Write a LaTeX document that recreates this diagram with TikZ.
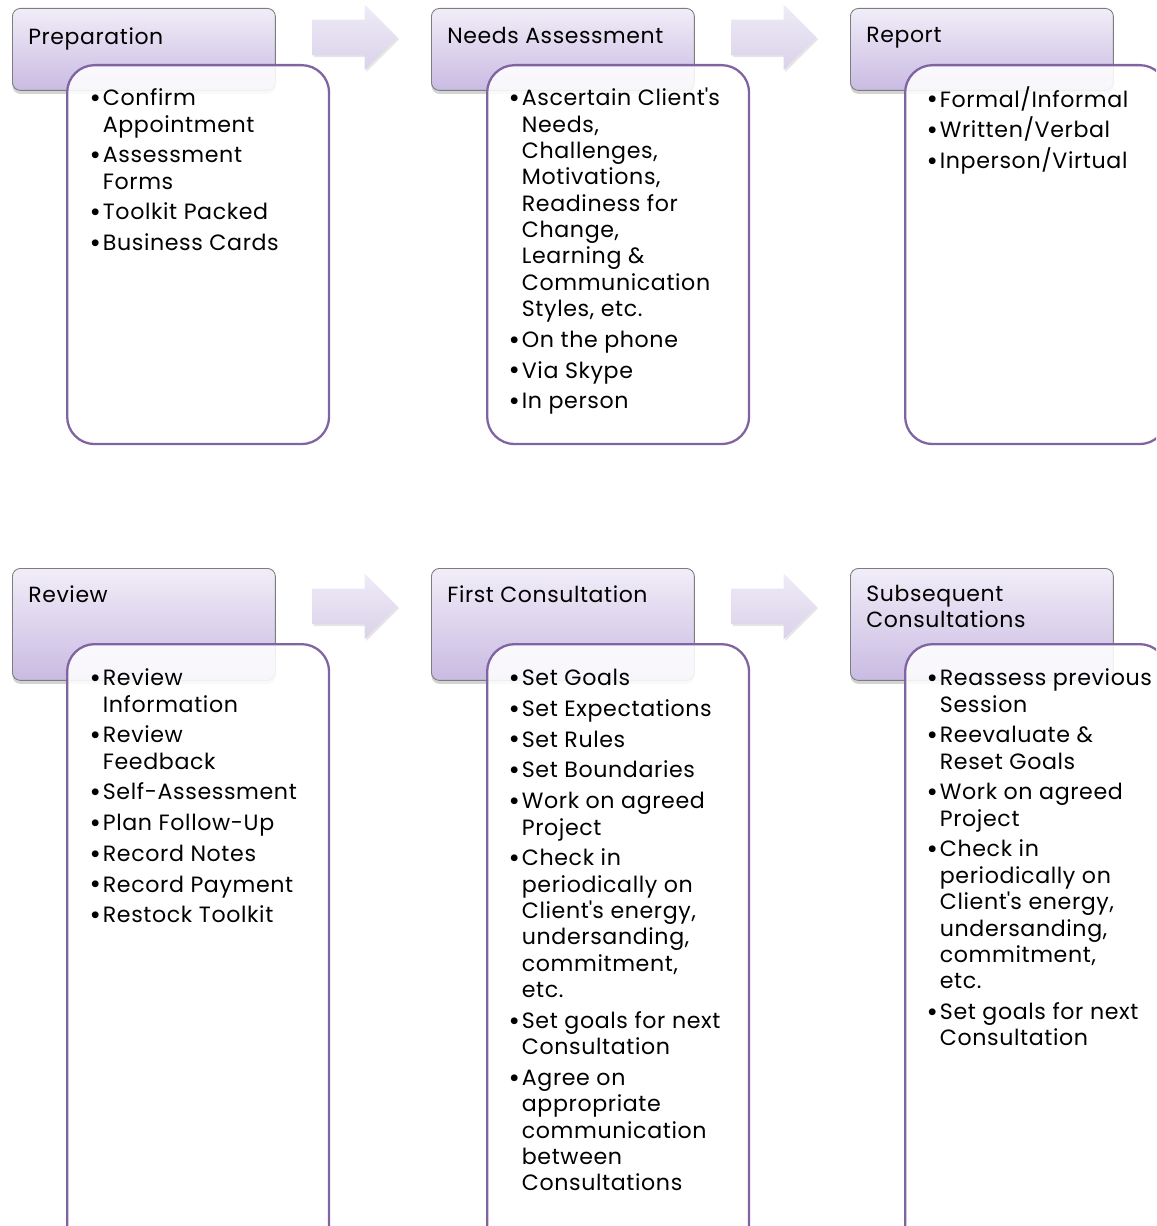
\documentclass[tikz,border=0pt]{standalone}
\usepackage{fontspec}
\setmainfont{Poppins}[LetterSpace=2.8]
\usetikzlibrary{calc,shapes.arrows,shadows}
\def\bul{\rule{0pt}{11pt}\makebox[6pt][l]{\hspace*{-1.6pt}\raisebox{-1pt}{\scalebox{1.25}{\textbullet}}}}
\def\cont{\hspace*{6pt}}
\definecolor{hdrtop}{RGB}{241,237,248}
\definecolor{hdrbot}{RGB}{201,187,226}
\definecolor{hdrline}{RGB}{125,125,125}
\definecolor{bodyline}{RGB}{128,100,162}
\definecolor{arrtop}{RGB}{239,235,247}
\definecolor{arrbot}{RGB}{218,210,234}
\tikzset{
  hdr/.style={draw=hdrline, line width=0.5pt, rounded corners=0.16cm, top color=hdrtop, bottom color=hdrbot,
    anchor=north west, minimum width=5.26cm, inner sep=0pt,
    drop shadow={shadow xshift=0pt, shadow yshift=-2pt, opacity=0.35}},
  bodybox/.style={draw=bodyline, line width=1.3pt, rounded corners=0.55cm, fill=white, fill opacity=0.88,
    anchor=north west, minimum width=5.24cm, inner sep=0pt},
  ttl/.style={anchor=north west, inner sep=0pt, align=left, font=\fontsize{12.5}{15}\selectfont},
  lst/.style={anchor=north west, inner sep=0pt, align=left, font=\fontsize{12.6}{15}\selectfont},
  flow/.style={single arrow, single arrow head extend=0.3cm, minimum height=1.7cm, inner sep=0.35cm,
    top color=arrtop, bottom color=arrbot, draw=none,
    drop shadow={shadow xshift=1pt, shadow yshift=-1pt, opacity=0.2}}
}

\begin{document}
\begin{tikzpicture}[x=0.02cm, y=-0.02cm]
			%%%%% START %%%%%
			\clip (0, 0) rectangle (1156, 1226);
			
			% top row
			\node[hdr, minimum height=1.64cm] (hdrPrep) at (12, 8) {};
			\node[bodybox, minimum height=7.58cm] (bodyPrep) at (66, 64) {};
			\node[ttl] (ttlPrep) at (28, 27) {Preparation};
			\node[lst] (lstPrep) at (92, 86) {\bul Confirm\\ \cont Appointment\\[2.5pt]
				\bul Assessment\\ \cont Forms\\[2.5pt]
				\bul Toolkit Packed\\[2.5pt]
				\bul Business Cards};
			
			\node[flow] (arrA) at (346, 37.5) {};
			
			\node[hdr, minimum height=1.64cm] (hdrNeeds) at (431, 8) {};
			\node[bodybox, minimum height=7.58cm] (bodyNeeds) at (486, 64) {};
			\node[ttl] (ttlNeeds) at (447, 27) {Needs Assessment};
			\node[lst] (lstNeeds) at (511, 86) {\bul Ascertain Client\textquotesingle s\\ \cont Needs,\\ \cont Challenges,\\
				\cont Motivations,\\ \cont Readiness for\\ \cont Change,\\ \cont Learning \&\\
				\cont Communication\\ \cont Styles, etc.\\[2.5pt]
				\bul On the phone\\[2.5pt]
				\bul Via Skype\\[2.5pt]
				\bul In person};
			
			\node[flow] (arrB) at (765, 37.5) {};
			
			\node[hdr, minimum height=1.64cm] (hdrRep) at (850, 8) {};
			\node[bodybox, minimum height=7.58cm] (bodyRep) at (904, 64) {};
			\node[ttl] (ttlRep) at (866, 27) {Report};
			\node[lst] (lstRep) at (929, 86) {\bul Formal/Informal\\[2.5pt]
				\bul Written/Verbal\\[2.5pt]
				\bul Inperson/Virtual};
			
			% bottom row
			\node[hdr, minimum height=2.24cm] (hdrRev) at (12, 568) {};
			\node[bodybox, minimum height=12.4cm] (bodyRev) at (66, 643) {};
			\node[ttl] (ttlRev) at (28, 585) {Review};
			\node[lst] (lstRev) at (92, 666) {\bul Review\\ \cont Information\\[2.5pt]
				\bul Review\\ \cont Feedback\\[2.5pt]
				\bul Self-Assessment\\[2.5pt]
				\bul Plan Follow-Up\\[2.5pt]
				\bul Record Notes\\[2.5pt]
				\bul Record Payment\\[2.5pt]
				\bul Restock Toolkit};
			
			\node[flow] (arrC) at (346, 606.5) {};
			
			\node[hdr, minimum height=2.24cm] (hdrFirst) at (431, 568) {};
			\node[bodybox, minimum height=12.4cm] (bodyFirst) at (486, 643) {};
			\node[ttl] (ttlFirst) at (447, 585) {First Consultation};
			\node[lst] (lstFirst) at (511, 666) {\bul Set Goals\\[2.5pt]
				\bul Set Expectations\\[2.5pt]
				\bul Set Rules\\[2.5pt]
				\bul Set Boundaries\\[2.5pt]
				\bul Work on agreed\\ \cont Project\\[2.5pt]
				\bul Check in\\ \cont periodically on\\ \cont Client\textquotesingle s energy,\\ \cont undersanding,\\
				\cont commitment,\\ \cont etc.\\[2.5pt]
				\bul Set goals for next\\ \cont Consultation\\[2.5pt]
				\bul Agree on\\ \cont appropriate\\ \cont communication\\ \cont between\\ \cont Consultations};
			
			\node[flow] (arrD) at (765, 606.5) {};
			
			\node[hdr, minimum height=2.24cm] (hdrSub) at (850, 568) {};
			\node[bodybox, minimum height=12.4cm] (bodySub) at (904, 643) {};
			\node[ttl] (ttlSub) at (866, 585) {Subsequent\\Consultations};
			\node[lst] (lstSub) at (929, 666) {\bul Reassess previous\\ \cont Session\\[2.5pt]
				\bul Reevaluate \&\\ \cont Reset Goals\\[2.5pt]
				\bul Work on agreed\\ \cont Project\\[2.5pt]
				\bul Check in\\ \cont periodically on\\ \cont Client\textquotesingle s energy,\\ \cont undersanding,\\
				\cont commitment,\\ \cont etc.\\[2.5pt]
				\bul Set goals for next\\ \cont Consultation};
			
			%%%%% END %%%%%
\end{tikzpicture}
\end{document}
